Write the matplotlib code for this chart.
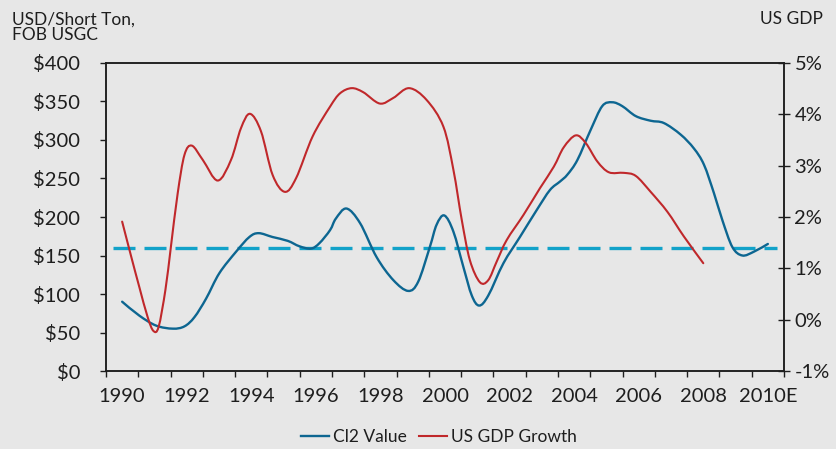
import numpy as np
import matplotlib
matplotlib.use("Agg")
import matplotlib.pyplot as plt
from matplotlib.path import Path
from matplotlib.patches import PathPatch
from matplotlib.ticker import FuncFormatter, FixedLocator

# Cl2 value, USD/short ton (fractional years)
cl2_years = [1990.00, 1990.53, 1991.05, 1991.57, 1991.93, 1992.24, 1992.60, 1993.01,
             1993.53, 1993.94, 1994.23, 1994.66, 1995.13, 1995.49, 1995.85, 1996.11,
             1996.44, 1996.62, 1996.95, 1997.37, 1997.88, 1998.40, 1998.86, 1999.17,
             1999.53, 1999.74, 1999.98, 2000.26, 2000.57, 2000.83, 2001.06, 2001.34,
             2001.81, 2002.32, 2002.84, 2003.25, 2003.56, 2003.79, 2004.10, 2004.51,
             2004.87, 2005.18, 2005.49, 2005.91, 2006.37, 2006.78, 2007.30, 2007.71,
             2008.02, 2008.33, 2008.59, 2008.90, 2009.21, 2009.57, 2010.00]
cl2_value = [90, 72, 59, 55, 58, 70, 94, 127,
             155, 174, 179, 174, 169, 162, 159, 166,
             183, 198, 211, 192, 148, 118, 104, 116,
             161, 190, 202, 181, 135, 98, 85, 98,
             140, 174, 209, 235, 246, 255, 274, 313,
             344, 349, 344, 331, 325, 322, 307, 289,
             268, 231, 196, 161, 150, 155, 165]

# US GDP growth, %
gdp_years = [1990.00, 1990.28, 1990.53, 1990.79, 1990.97, 1991.13, 1991.34, 1991.51,
             1991.72, 1991.93, 1992.16, 1992.50, 1992.96, 1993.37, 1993.68, 1993.96,
             1994.30, 1994.66, 1995.04, 1995.39, 1995.90, 1996.44, 1996.75, 1997.11,
             1997.47, 1997.98, 1998.40, 1998.89, 1999.43, 1999.95, 2000.26, 2000.52,
             2000.77, 2001.08, 2001.34, 2001.60, 2001.91, 2002.43, 2002.94, 2003.37,
             2003.68, 2004.05, 2004.36, 2004.72, 2005.08, 2005.54, 2005.91, 2006.37,
             2006.89, 2007.40, 2008.00]
gdp_growth = [1.91, 1.23, 0.64, 0.05, -0.22, -0.14, 0.58, 1.42,
              2.46, 3.21, 3.39, 3.11, 2.71, 3.11, 3.73, 4.01,
              3.67, 2.82, 2.49, 2.76, 3.57, 4.15, 4.41, 4.51,
              4.43, 4.21, 4.32, 4.51, 4.28, 3.76, 2.92, 1.94,
              1.16, 0.73, 0.77, 1.13, 1.55, 2.04, 2.56, 2.98,
              3.36, 3.59, 3.44, 3.08, 2.87, 2.86, 2.80, 2.49,
              2.10, 1.62, 1.10]

avg_level = 160  # dashed reference line, $/ton

year_labels = ["1990", "1992", "1994", "1996", "1998", "2000",
               "2002", "2004", "2006", "2008", "2010E"]
left_ticks = [0, 50, 100, 150, 200, 250, 300, 350, 400]
right_ticks = [-1, 0, 1, 2, 3, 4, 5]


def smooth_path(xs, ys):
    # Catmull-Rom through the points, drawn as cubic Bezier segments (like a smoothed line)
    pts = np.column_stack([xs, ys]).astype(float)
    verts = [pts[0]]
    codes = [Path.MOVETO]
    n = len(pts)
    for i in range(n - 1):
        p0 = pts[max(i - 1, 0)]
        p1 = pts[i]
        p2 = pts[i + 1]
        p3 = pts[min(i + 2, n - 1)]
        verts += [p1 + (p2 - p0) / 6.0, p2 - (p3 - p1) / 6.0, p2]
        codes += [Path.CURVE4] * 3
    return Path(verts, codes)


plt.rcParams['font.family'] = ['Lato', 'DejaVu Sans']
txt = '#1e1e1e'
blue = '#0d6691'
red = '#c0282b'
cyan = '#12a2c9'

fig = plt.figure(figsize=(8.36, 4.49), dpi=100)
fig.patch.set_facecolor('#e7e7e7')
ax = fig.add_axes([0.1268, 0.1737, 0.811, 0.686])
ax.set_facecolor('none')
ax2 = ax.twinx()

ax.add_patch(PathPatch(smooth_path(cl2_years, cl2_value), fill=False, edgecolor=blue,
                       lw=1.7, capstyle='round', joinstyle='round', zorder=3))
ax.axhline(avg_level, xmin=0.01, xmax=0.99, color=cyan, lw=2.4,
           dashes=(6.6, 2.7), zorder=2)
ax2.add_patch(PathPatch(smooth_path(gdp_years, gdp_growth), fill=False, edgecolor=red,
                        lw=1.5, capstyle='round', joinstyle='round', zorder=3))

# legend handles
l1, = ax.plot([], [], color=blue, lw=1.7, label='Cl2 Value')
l2, = ax2.plot([], [], color=red, lw=1.5, label='US GDP Growth')

ax.set_xlim(1989.5, 2010.5)
ax.set_ylim(0, 400)
ax2.set_ylim(-1, 5)

# category-style x axis: boundary ticks, labels every other year
ax.xaxis.set_major_locator(FixedLocator(np.arange(1989.5, 2011, 1.0)))
ax.xaxis.set_minor_locator(FixedLocator(np.arange(1990, 2011, 2)))
ax.xaxis.set_major_formatter(FuncFormatter(lambda v, p: ''))
ax.set_xticklabels(year_labels, minor=True)
ax.tick_params(axis='x', which='major', direction='out', length=4.5, width=1.0, color=txt)
ax.tick_params(axis='x', which='minor', length=0, pad=12, labelsize=14.5, labelcolor=txt)

ax.set_yticks(left_ticks)
ax.yaxis.set_major_formatter(FuncFormatter(lambda v, p: f'${v:.0f}'))
ax.tick_params(axis='y', direction='out', length=4.5, width=1.0, pad=14,
               labelsize=14.5, labelcolor=txt, color=txt)

ax2.set_yticks(right_ticks)
ax2.yaxis.set_major_formatter(FuncFormatter(lambda v, p: f'{v:.0f}%'))
ax2.tick_params(axis='y', direction='inout', length=9, width=1.0, pad=3,
                labelsize=14.5, labelcolor=txt, color=txt)

for a in (ax, ax2):
    for s in a.spines.values():
        s.set_color(txt)
        s.set_linewidth(1.1)

fig.text(0.0144, 0.975, 'USD/Short Ton,\nFOB USGC', ha='left', va='top',
         fontsize=12.5, color=txt, linespacing=1.0)
fig.text(0.9844, 0.975, 'US GDP', ha='right', va='top', fontsize=12.5, color=txt)

fig.legend(handles=[l1, l2], loc='center', bbox_to_anchor=(0.525, 0.027), ncol=2,
           frameon=False, fontsize=12.5, handlelength=1.6, handletextpad=0.25,
           columnspacing=0.7, labelcolor=txt)

fig.savefig('out.png', dpi=100, facecolor=fig.get_facecolor())
